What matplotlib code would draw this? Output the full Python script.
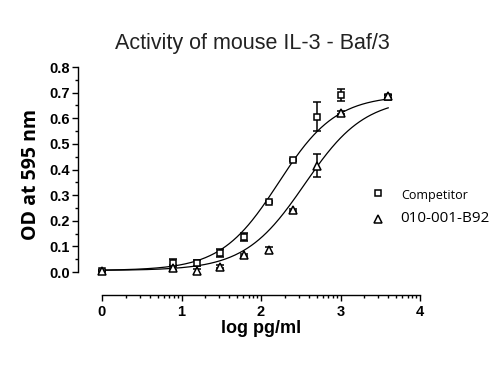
import numpy as np
import matplotlib
matplotlib.use("Agg")
import matplotlib.pyplot as plt
from matplotlib.lines import Line2D

# ---- data ----
x_log = [0.0, 0.89, 1.19, 1.49, 1.79, 2.10, 2.40, 2.70, 3.00, 3.60]
comp_y = [0.005, 0.034, 0.034, 0.073, 0.138, 0.272, 0.437, 0.606, 0.691, 0.684]
comp_err = [0.003, 0.015, 0.012, 0.016, 0.016, 0.004, 0.004, 0.057, 0.023, 0.006]
b92_y = [0.005, 0.016, 0.002, 0.021, 0.068, 0.086, 0.242, 0.414, 0.622, 0.686]
b92_err = [0.003, 0.010, 0.010, 0.005, 0.004, 0.012, 0.004, 0.045, 0.005, 0.006]

# fitted 4PL parameters (bottom, top, logEC50, hill)
comp_fit = [0.006, 0.69, 2.22, 1.2]
b92_fit = [0.006, 0.68, 2.55, 1.15]

labels = ["Competitor", "010-001-B92"]
title = "Activity of mouse IL-3 - Baf/3"
xlabel = "log pg/ml"
ylabel = "OD at 595 nm"
xticks = [0, 1, 2, 3, 4]
yticks = [0.0, 0.1, 0.2, 0.3, 0.4, 0.5, 0.6, 0.7, 0.8]


def four_pl(x, p):
    b, t, c, h = p
    return b + (t - b) / (1 + 10 ** ((c - x) * h))


fig = plt.figure(figsize=(5, 3.75), dpi=100)
ax = fig.add_axes([102 / 500, 1 - 272 / 375, 318 / 500, 205 / 375])
ax.set_xlim(0, 4)
ax.set_ylim(0, 0.8)

xs = np.linspace(x_log[0], x_log[-1], 300)
ax.plot(xs, four_pl(xs, comp_fit), color="black", lw=0.9, clip_on=False)
ax.plot(xs, four_pl(xs, b92_fit), color="black", lw=0.9, clip_on=False)

ax.errorbar(x_log, comp_y, yerr=comp_err, fmt="s", ms=4.3, mfc="white",
            mec="black", mew=1.1, ecolor="black", elinewidth=1.1, capsize=3.2,
            capthick=1.1, clip_on=False, zorder=3)
ax.errorbar(x_log, b92_y, yerr=b92_err, fmt="^", ms=5.4, mfc="white",
            mec="black", mew=1.1, ecolor="black", elinewidth=1.1, capsize=3.2,
            capthick=1.1, clip_on=False, zorder=3)

for s in ["top", "right"]:
    ax.spines[s].set_visible(False)
ax.spines["left"].set_position(("outward", 17))
ax.spines["bottom"].set_position(("outward", 16.5))
ax.spines["left"].set_bounds(0, 0.8)
ax.spines["bottom"].set_bounds(0, 4)
for s in ["left", "bottom"]:
    ax.spines[s].set_linewidth(1.0)

ax.set_xticks(xticks)
ax.set_xticklabels([str(t) for t in xticks])
minor_x = [d + np.log10(k) for d in range(4) for k in range(2, 10)]
ax.set_xticks(minor_x, minor=True)
ax.set_yticks(yticks)
ax.set_yticklabels([f"{t:.1f}" for t in yticks])
ax.set_yticks(np.arange(0.05, 0.8, 0.1), minor=True)

ax.tick_params(axis="both", which="major", length=4, width=1.0, direction="out",
               labelsize=10.5)
ax.tick_params(axis="both", which="minor", length=2.5, width=1.0, direction="out")
for lab in ax.get_xticklabels() + ax.get_yticklabels():
    lab.set_fontfamily("Liberation Sans")
    lab.set_fontweight("bold")
ax.tick_params(axis="x", pad=3)
ax.tick_params(axis="y", pad=2)

ax.set_xlabel(xlabel, fontfamily="Liberation Sans", fontweight="bold", fontsize=13,
              labelpad=1)
fig.text(31 / 500, 1 - 175 / 375, ylabel, rotation=90, ha="center", va="center",
         fontfamily="Open Sans", fontweight="bold", fontsize=14)
fig.text(252 / 500, 1 - 43 / 375, title, ha="center", va="center",
         fontfamily="Liberation Sans", fontsize=15.5, color="#222222")

# legend (manual placement)
fig.add_artist(Line2D([378 / 500], [1 - 193 / 375], marker="s", ms=4, mfc="white",
                      mec="black", mew=1.1, transform=fig.transFigure))
fig.add_artist(Line2D([378 / 500], [1 - 219 / 375], marker="^", ms=5.5, mfc="white",
                      mec="black", mew=1.1, transform=fig.transFigure))
fig.text(401 / 500, 1 - 195 / 375, labels[0], ha="left", va="center",
         fontfamily="Open Sans", fontsize=9)
fig.text(400 / 500, 1 - 219 / 375, labels[1], ha="left", va="center",
         fontfamily="Open Sans", fontsize=11)

fig.savefig("out.png", dpi=100)
